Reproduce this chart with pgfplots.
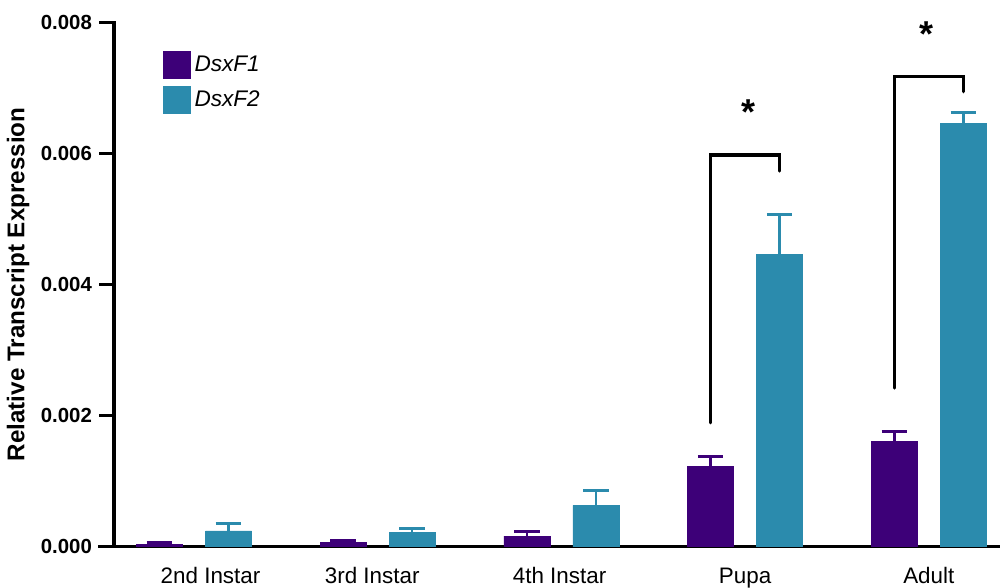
\documentclass[border=0pt]{standalone}
\usepackage{pgfplots}
\pgfplotsset{compat=1.18}
\usepackage{fontspec}
\setmainfont{Liberation Sans}
\definecolor{fone}{RGB}{61,0,120}
\definecolor{ftwo}{RGB}{43,139,173}

\begin{document}
\begin{tikzpicture}
\begin{axis}[
  scale only axis, width=443pt, height=262.25pt,
  xmin=-0.4355, xmax=4.3876, ymin=0, ymax=0.008,
  ybar, bar width=23pt,
  axis y line=left, axis x line=bottom,
  axis line style={-, line width=1.7pt, line cap=rect},
  x axis line style={shorten <=-7pt},
  xtick={0.09,0.97,1.99,3,4},
  xticklabels={2nd Instar,3rd Instar,4th Instar,Pupa,Adult},
  xtick align=inside, ytick align=outside,
  xtick style={draw=none},
  ytick={0,0.002,0.004,0.006,0.008},
  ytick style={line width=1.7pt, black},
  major tick length=7.5pt,
  scaled y ticks=false,
  yticklabel style={font=\bfseries\fontsize{10.2}{12}\selectfont,
    /pgf/number format/fixed, /pgf/number format/fixed zerofill,
    /pgf/number format/precision=3, /pgf/number format/assume math mode=true},
  xticklabel style={font=\fontsize{11.2}{13}\selectfont, yshift=-7pt},
  ylabel={Relative Transcript Expression},
  every axis y label/.style={at={(axis description cs:0,0.5)}, xshift=-48pt,
    rotate=90, anchor=center, font=\bfseries\fontsize{12.1}{14}\selectfont},
  legend style={at={(axis description cs:0.055,0.945)}, anchor=north west,
    draw=none, fill=none, inner sep=0pt, row sep=3.6pt,
    font=\itshape\fontsize{11.3}{13}\selectfont, cells={anchor=west}},
  legend image code/.code={\draw[#1,/tikz/.cd,yshift=0pt] (0pt,-6.65pt) rectangle (13.3pt,6.65pt);},
  clip=false,
]
% DsxF1: mean with upper SEM
\addplot[fill=fone, draw=fone, bar shift=-17.25pt,
  error bars/.cd, y dir=plus, y explicit,
  error bar style={line width=1.2pt, fone},
  error mark options={rotate=90, mark size=6.4pt, line width=1.5pt, fone}]
  coordinates {
  (0,0.00003) +- (0,0.00003)
  (1,0.00006) +- (0,0.00004)
  (2,0.00016) +- (0,0.00007)
  (3,0.00122) +- (0,0.00016)
  (4,0.00161) +- (0,0.00015)
  };
\addlegendentry{DsxF1}
% DsxF2: mean with upper SEM
\addplot[fill=ftwo, draw=ftwo, bar shift=17.25pt,
  error bars/.cd, y dir=plus, y explicit,
  error bar style={line width=1.2pt, ftwo},
  error mark options={rotate=90, mark size=6.4pt, line width=1.5pt, ftwo}]
  coordinates {
  (0,0.00024) +- (0,0.00012)
  (1,0.00022) +- (0,0.00005)
  (2,0.00063) +- (0,0.00022)
  (3,0.00446) +- (0,0.00060)
  (4,0.00645) +- (0,0.00017)
  };
\addlegendentry{DsxF2}
% significance brackets
\draw[line width=1.6pt, line cap=round] (axis cs:2.812,0.00189) -- (axis cs:2.812,0.005976) -- (axis cs:3.188,0.005976) -- (axis cs:3.188,0.00573);
\draw[line width=1.6pt, line cap=round] (axis cs:3.812,0.00242) -- (axis cs:3.812,0.00717) -- (axis cs:4.188,0.00717) -- (axis cs:4.188,0.00694);
\node[anchor=base, yshift=-9pt, font=\bfseries\fontsize{18}{18}\selectfont] at (axis cs:3.016,0.00671) {*};
\node[anchor=base, yshift=-8pt, font=\bfseries\fontsize{18}{18}\selectfont] at (axis cs:3.989,0.00788) {*};
\end{axis}
\pgfresetboundingbox
\path[use as bounding box] (-57pt,-20.65pt) rectangle (443pt,273.35pt);
\end{tikzpicture}
\end{document}
